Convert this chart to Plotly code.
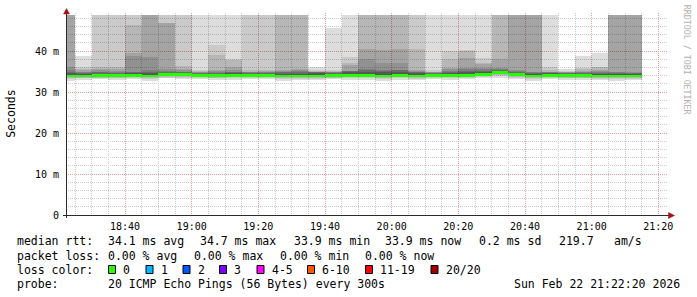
import plotly.graph_objects as go
from datetime import datetime, timedelta

# ---------------- data ----------------
DAY = "2026-02-22"
slot_start = ["18:20", "18:25", "18:30", "18:35", "18:40", "18:45", "18:50", "18:55",
              "19:00", "19:05", "19:10", "19:15", "19:20", "19:25", "19:30", "19:35",
              "19:40", "19:45", "19:50", "19:55", "20:00", "20:05", "20:10", "20:15",
              "20:20", "20:25", "20:30", "20:35", "20:40", "20:45", "20:50", "20:55",
              "21:00", "21:05", "21:10"]

# median rtt per 5-minute step (ms)
median_rtt = [33.9, 33.9, 34.0, 34.0, 34.1, 33.9, 34.2, 34.2, 34.1, 34.0, 34.1, 34.1,
              34.1, 33.9, 33.9, 33.9, 34.0, 34.1, 34.1, 33.9, 34.1, 33.9, 34.1, 34.1,
              34.1, 34.3, 34.7, 34.2, 33.9, 34.1, 34.0, 34.0, 33.9, 33.9, 33.9]

# sorted pings above the median (ms), highest first
p19 = [62.1, 38.8, 57.3, 66.0, 71.4, 88.2, 59.6, 54.8, 61.7, 52.9, 58.4, 63.3,
       55.1, 74.0, 69.2, 36.2, 45.7, 57.9, 81.5, 77.3, 64.8, 60.2, 53.6, 56.1,
       58.7, 51.9, 73.4, 92.6, 85.0, 50.3, 35.5, 38.8, 39.6, 97.1, 90.4]
p18 = [58.5, 36.2, 52.0, 55.4, 60.3, 79.1, 53.2, 50.7, 35.4, 41.5, 38.0, 55.8,
       51.2, 66.9, 61.0, 35.3, 35.3, 38.6, 70.2, 68.8, 57.5, 53.9, 35.3, 40.0,
       40.2, 38.2, 65.1, 83.7, 77.2, 36.2, 35.1, 35.8, 36.2, 86.5, 80.9]
p17 = [53.0, 35.7, 36.2, 36.0, 46.3, 70.6, 46.9, 36.3, 35.1, 39.0, 37.9, 35.3,
       35.4, 58.2, 54.4, 35.1, 35.1, 37.1, 62.7, 60.1, 50.4, 40.4, 35.0, 38.0,
       40.1, 37.0, 57.9, 74.3, 68.6, 35.3, 35.0, 35.6, 36.0, 75.8, 71.3]
p16 = [50.2, 35.3, 35.6, 35.5, 39.4, 63.4, 46.8, 35.7, 34.9, 35.4, 36.0, 35.0,
       35.1, 35.4, 35.6, 35.0, 35.0, 36.6, 40.4, 40.2, 40.4, 35.3, 34.9, 35.8,
       38.2, 36.9, 38.0, 66.2, 60.7, 35.0, 34.9, 35.2, 35.3, 67.4, 62.0]
p15 = [36.0, 35.0, 35.3, 35.2, 38.8, 38.6, 35.6, 35.3, 34.8, 35.1, 35.4, 34.9,
       34.9, 35.2, 35.3, 34.95, 34.9, 35.2, 38.0, 37.1, 37.1, 35.1, 34.8, 35.5,
       35.8, 35.8, 35.8, 35.3, 35.0, 34.9, 34.8, 35.0, 35.1, 35.0, 34.9]
p14 = [35.3, 34.8, 35.0, 34.9, 35.0, 35.3, 35.2, 35.0, 34.7, 34.9, 35.0, 34.8,
       34.8, 35.0, 35.1, 34.9, 34.8, 35.2, 35.5, 35.4, 35.4, 34.9, 34.7, 35.2,
       35.5, 35.5, 35.5, 35.1, 34.8, 34.8, 34.7, 34.9, 34.9, 34.8, 34.7]
p13 = [34.9, 34.6, 34.8, 34.7, 34.8, 34.9, 34.9, 34.8, 34.6, 34.7, 34.8, 34.7,
       34.6, 34.8, 34.8, 34.8, 34.7, 35.2, 35.3, 35.1, 35.3, 34.8, 34.6, 34.9,
       35.2, 35.2, 35.3, 34.9, 34.6, 34.7, 34.6, 34.7, 34.7, 34.6, 34.6]
p12 = [34.6, 34.4, 34.5, 34.5, 34.6, 34.6, 34.7, 34.6, 34.5, 34.5, 34.6, 34.5,
       34.5, 34.5, 34.5, 34.6, 34.5, 34.8, 34.9, 34.8, 34.9, 34.6, 34.5, 34.6,
       34.8, 35.0, 35.1, 34.7, 34.5, 34.6, 34.5, 34.5, 34.5, 34.5, 34.4]
# sorted pings below the median (ms), lowest first
p0 = [32.8, 33.0, 33.1, 32.9, 33.2, 32.8, 33.3, 33.1, 33.2, 32.9, 33.0, 33.2,
      33.1, 32.8, 32.9, 33.0, 33.1, 33.0, 32.9, 32.8, 33.0, 32.9, 33.2, 33.0,
      33.1, 33.3, 33.5, 33.2, 32.8, 33.1, 33.0, 32.9, 32.9, 32.8, 33.0]
p1 = [33.2, 33.3, 33.3, 33.3, 33.4, 33.2, 33.5, 33.5, 33.4, 33.3, 33.4, 33.4,
      33.4, 33.2, 33.2, 33.2, 33.3, 33.4, 33.4, 33.2, 33.4, 33.2, 33.4, 33.4,
      33.4, 33.6, 33.9, 33.5, 33.2, 33.4, 33.3, 33.3, 33.2, 33.2, 33.2]
p2 = [33.4, 33.4, 33.5, 33.5, 33.6, 33.4, 33.7, 33.7, 33.6, 33.5, 33.6, 33.6,
      33.6, 33.4, 33.4, 33.4, 33.5, 33.6, 33.6, 33.4, 33.6, 33.4, 33.6, 33.6,
      33.6, 33.8, 34.1, 33.7, 33.4, 33.6, 33.5, 33.5, 33.4, 33.4, 33.4]

y_tick_vals = [0, 10, 20, 30, 40]
y_tick_text = ["0", "10 m", "20 m", "30 m", "40 m"]

loss_labels = ["0", "1", "2", "3", "4-5", "6-10", "11-19", "20/20"]
loss_colors = ["#26ff00", "#00b8ff", "#0059ff", "#7e00ff", "#ff00ff", "#ff5500", "#ff0000", "#a10000"]

# ---------------- layout constants ----------------
W, H = 697, 297
ML, MR, MT, MB = 66, 29, 13, 82
PW = W - ML - MR
PH = H - MT - MB
Y_MAX = 49.27
SMOKE_CAP = 48.8
MEDIAN_BAND = 0.72
STEP = timedelta(minutes=5)
X_START = "2026-02-22 18:22:18"
X_END = "2026-02-22 21:22:54"
MONO = "DejaVu Sans Mono"
GRAYS = [221, 202, 183, 164, 145, 126, 107, 88]   # smoke shades, outer -> inner


def xp(px):
    return (px - ML) / PW


def yp(py):
    return (H - MB - py) / PH


xs = [datetime.strptime(f"{DAY} {t}", "%Y-%m-%d %H:%M") + STEP / 2 for t in slot_start]
n = len(xs)

tops = [p19, p18, p17, p16, p15, p14, p13, p12]
lows = [p0, p1, p2]

fig = go.Figure()

# smoke: each shade drawn as its visible (non-overlapping) part, translucent black
for k, g in enumerate(GRAYS):
    bx, base, hgt = [], [], []
    for i in range(n):
        hi = min(tops[k][i], SMOKE_CAP)
        lo = min(tops[k + 1][i], SMOKE_CAP) if k + 1 < len(tops) else median_rtt[i]
        bx.append(xs[i]); base.append(lo); hgt.append(max(0.0, hi - lo))
        if k < len(lows):
            blo = lows[k][i]
            bhi = lows[k + 1][i] if k + 1 < len(lows) else median_rtt[i]
            bx.append(xs[i]); base.append(blo); hgt.append(max(0.0, bhi - blo))
    fig.add_trace(go.Bar(
        x=bx, y=hgt, base=base, width=STEP.total_seconds() * 1000,
        marker=dict(color=f"rgba(0,0,0,{1 - g / 255:.4f})", line=dict(width=0)),
        showlegend=False, hoverinfo="skip"))

# median band (0 % loss colour)
fig.add_trace(go.Bar(
    x=xs, y=[MEDIAN_BAND] * n, base=[m - MEDIAN_BAND / 2 for m in median_rtt],
    width=STEP.total_seconds() * 1000,
    marker=dict(color=loss_colors[0], line=dict(width=0)),
    showlegend=False, hoverinfo="skip"))

MAJOR_GRID = "#e5a0a0"
MINOR_GRID = "#cdcdcd"

fig.update_layout(
    width=W, height=H,
    margin=dict(l=ML, r=MR, t=MT, b=MB, pad=0),
    paper_bgcolor="white", plot_bgcolor="white",
    barmode="overlay", bargap=0, bargroupgap=0,
    showlegend=False,
    font=dict(family=MONO, color="#000000"),
    xaxis=dict(
        type="date", range=[X_START, X_END], fixedrange=True,
        tickmode="linear", tick0="2026-02-22 18:40:00", dtick=20 * 60 * 1000,
        tickformat="%H:%M", ticks="", ticklabelstandoff=4,
        tickfont=dict(family=MONO, size=10, color="#000000"),
        showgrid=True, gridcolor=MAJOR_GRID, griddash="1px,1px", gridwidth=1,
        minor=dict(tick0="2026-02-22 18:40:00", dtick=5 * 60 * 1000, showgrid=True,
                   gridcolor=MINOR_GRID, griddash="1px,1px", gridwidth=1),
        showline=False, zeroline=False),
    yaxis=dict(
        range=[0, Y_MAX], fixedrange=True,
        tickmode="array", tickvals=y_tick_vals, ticktext=y_tick_text,
        ticks="", ticklabelstandoff=6,
        tickfont=dict(family=MONO, size=10, color="#000000"),
        showgrid=True, gridcolor=MAJOR_GRID, griddash="1px,1px", gridwidth=1,
        minor=dict(tick0=0, dtick=2, showgrid=True,
                   gridcolor=MINOR_GRID, griddash="1px,1px", gridwidth=1),
        showline=False, zeroline=False),
)

shapes = []
AXIS_COL = "#2a2a2a"
ARROW_COL = "#a01414"
# axis lines
shapes.append(dict(type="line", xref="paper", yref="paper",
                   x0=xp(63), x1=xp(670), y0=yp(215.5), y1=yp(215.5),
                   line=dict(color=AXIS_COL, width=1), layer="above"))
shapes.append(dict(type="line", xref="paper", yref="paper",
                   x0=xp(66.5), x1=xp(66.5), y0=yp(218), y1=yp(12),
                   line=dict(color=AXIS_COL, width=1), layer="above"))


def paper_path(points):
    return "M " + " L ".join(f"{xp(a):.5f},{yp(b):.5f}" for a, b in points) + " Z"


shapes.append(dict(type="path", xref="paper", yref="paper",
                   path=paper_path([(63.5, 14), (66.5, 8.5), (69.5, 14)]),
                   fillcolor=ARROW_COL, line=dict(color=ARROW_COL, width=0.5), layer="above"))
shapes.append(dict(type="path", xref="paper", yref="paper",
                   path=paper_path([(668.5, 212.5), (674.5, 215.5), (668.5, 218.5)]),
                   fillcolor=ARROW_COL, line=dict(color=ARROW_COL, width=0.5), layer="above"))

# loss colour boxes
box_left = [108, 145.5, 182.5, 219, 256.5, 307, 365, 430.5]
for bl, c in zip(box_left, loss_colors):
    shapes.append(dict(type="rect", xref="paper", yref="paper",
                       x0=xp(bl + 0.5), x1=xp(bl + 7.5), y0=yp(273.5), y1=yp(265.5),
                       fillcolor=c, line=dict(color="#000000", width=1), layer="above"))
fig.update_layout(shapes=shapes)

NB = "\u00a0"


def txt(s, px, py, size=11.5, color="#000000", anchor="left", angle=0, yanchor="middle"):
    fig.add_annotation(text=s.replace(" ", NB), xref="paper", yref="paper",
                       x=xp(px), y=yp(py), xanchor=anchor, yanchor=yanchor,
                       showarrow=False, borderpad=0, textangle=angle,
                       font=dict(family=MONO, size=size, color=color))


L1, L2, L3, L4 = 241.5, 255.5, 269.5, 283.5
txt("median rtt:", 16, L1)
txt("34.1 ms avg", 106.5, L1)
txt("34.7 ms max", 199.3, L1)
txt("33.9 ms min", 292.6, L1)
txt("33.9 ms now", 384.3, L1)
txt("0.2 ms sd", 477.6, L1)
txt("219.7", 557.6, L1)
txt("am/s", 612.6, L1)

txt("packet loss:", 16, L2)
txt("0.00 % avg", 106.5, L2)
txt("0.00 % max", 192.6, L2)
txt("0.00 % min", 278.6, L2)
txt("0.00 % now", 364.3, L2)

txt("loss color:", 16, L3)
for bl, lab in zip(box_left, loss_labels):
    txt(lab, bl + 14.3, L3)

txt("probe:", 16, L4)
txt("20 ICMP Echo Pings (56 Bytes) every 300s", 106.5, L4)
txt("Sun Feb 22 21:22:20 2026", 512.6, L4)

# axis title and watermark
txt("Seconds", 10.3, 113.5, angle=-90, anchor="center")
txt("RRDTOOL / TOBI OETIKER", 687.3, 60, size=8.3, color="#b0b0b0", angle=90, anchor="center")

fig.write_html("out.html")
